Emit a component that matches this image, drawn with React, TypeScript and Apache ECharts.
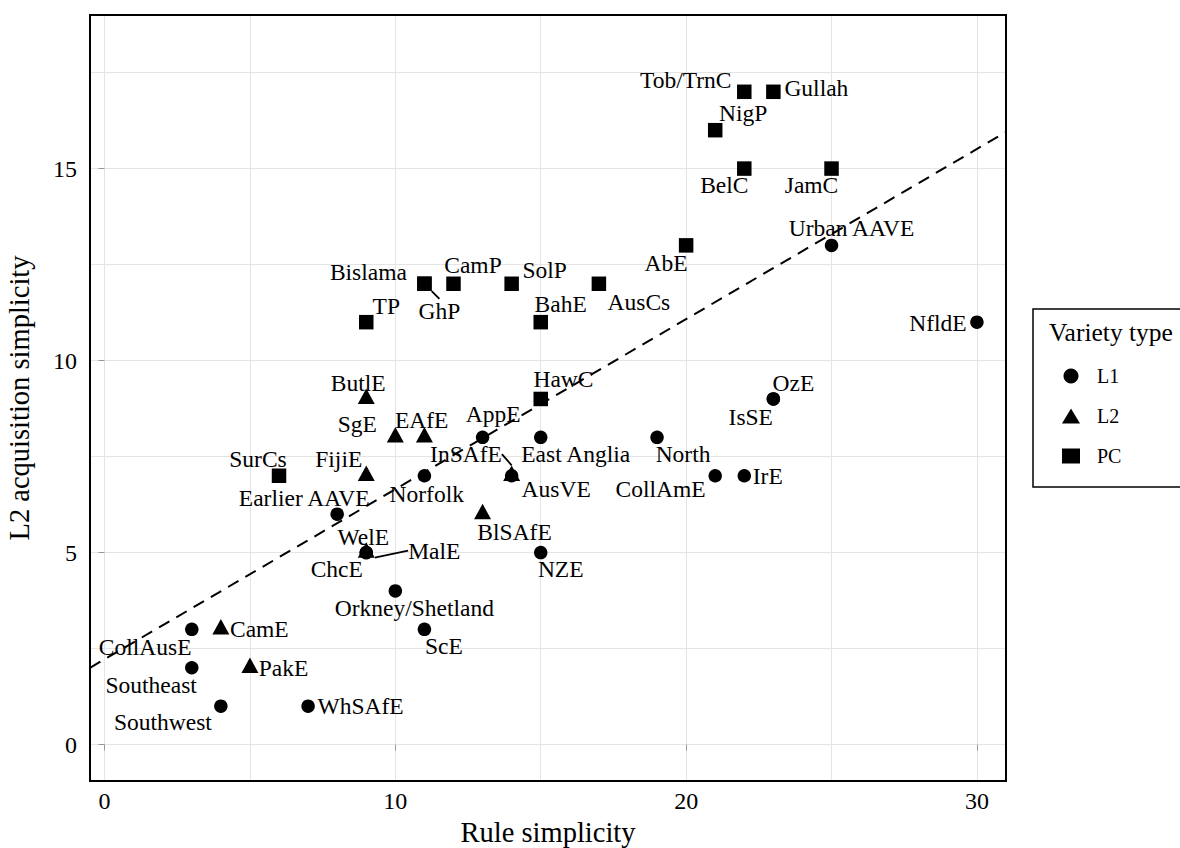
import React, { useEffect, useRef } from 'react';
import * as echarts from 'echarts';

const FONT = "'Liberation Serif', 'Times New Roman', Times, serif";

// ---- data ----
const l1Names = ['Urban AAVE', 'NfldE', 'OzE', 'IsSE', 'AppE', 'East Anglia', 'North', 'CollAmE', 'IrE', 'AusVE', 'Norfolk', 'Earlier AAVE', 'WelE', 'ChcE', 'NZE', 'Orkney/Shetland', 'ScE', 'CollAusE', 'Southeast', 'Southwest', 'WhSAfE'];
const l1X = [25, 30, 23, 23, 13, 15, 19, 21, 22, 14, 11, 8, 9, 9, 15, 10, 11, 3, 3, 4, 7];
const l1Y = [13, 11, 9, 9, 8, 8, 8, 7, 7, 7, 7, 6, 5, 5, 5, 4, 3, 3, 2, 1, 1];

const l2Names = ['ButlE', 'SgE', 'EAfE', 'FijiE', 'InSAfE', 'BlSAfE', 'MalE', 'CamE', 'PakE'];
const l2X = [9, 10, 11, 9, 14, 13, 9, 4, 5];
const l2Y = [9, 8, 8, 7, 7, 6, 5, 3, 2];

const pcNames = ['Tob/TrnC', 'Gullah', 'NigP', 'BelC', 'JamC', 'AbE', 'Bislama', 'GhP', 'CamP', 'SolP', 'AusCs', 'TP', 'BahE', 'HawC', 'SurCs'];
const pcX = [22, 23, 21, 22, 25, 20, 11, 11, 12, 14, 17, 9, 15, 15, 6];
const pcY = [17, 17, 16, 15, 15, 13, 12, 12, 12, 12, 12, 11, 11, 9, 7];

const fitIntercept = 2.22;
const fitSlope = 0.443;

const xTicks = [0, 10, 20, 30];
const yTicks = [0, 5, 10, 15];
const xRange = [-0.5, 31];
const yRange = [-0.95, 19];

const legendTitle = 'Variety type';
const typeNames = ['L1', 'L2', 'PC'];

// ---- label placement (pixel offsets of label centre from point, repel-style) ----
const labelOffsets: Record<string, [number, number]> = {
  'Urban AAVE': [20, -17], 'NfldE': [-39, 0.5], 'OzE': [20, -15.6], 'IsSE': [-22.6, 18],
  'AppE': [10.7, -23], 'East Anglia': [35, 17], 'North': [26, 17], 'CollAmE': [-54.6, 13],
  'IrE': [23.5, 0.6], 'AusVE': [44.5, 13.3], 'Norfolk': [2.3, 18.3], 'Earlier AAVE': [-33, -16.3],
  'WelE': [-3, -16], 'ChcE': [-29.5, 16], 'NZE': [20, 16.7], 'Orkney/Shetland': [19, 17],
  'ScE': [19.5, 17], 'CollAusE': [-46.6, 18], 'Southeast': [-40.6, 17], 'Southwest': [-58, 15.6],
  'WhSAfE': [52.5, 0], 'ButlE': [-8, -16], 'SgE': [-38, -13], 'EAfE': [-2.7, -17],
  'FijiE': [-27.5, -16.7], 'InSAfE': [-45.7, -21.7], 'BlSAfE': [32, 18], 'MalE': [68, -2],
  'CamE': [38.5, 0], 'PakE': [33.5, 0], 'Tob/TrnC': [-58.5, -12], 'Gullah': [43, -4],
  'NigP': [28, -17], 'BelC': [-20, 16.6], 'JamC': [-20, 16.6], 'AbE': [-20, 17.6],
  'Bislama': [-56, -12], 'GhP': [15, 27], 'CamP': [19.5, -18.7], 'SolP': [33, -14],
  'AusCs': [40, 18], 'TP': [20, -16.5], 'BahE': [20, -18], 'HawC': [22.7, -20], 'SurCs': [-21, -16.7],
};
const withSegment = ['GhP', 'InSAfE', 'MalE'];

const TRI_SHIFT = 2.6;

function makeData(names: string[], xs: number[], ys: number[]) {
  return names.map((n, i) => {
    const item: any = { name: n, value: [xs[i], ys[i]] };
    if (withSegment.includes(n)) {
      item.labelLine = { show: true, lineStyle: { color: '#000', width: 1.8, opacity: 1 } };
    }
    return item;
  });
}

function layoutFor(names: string[], extraDy: number) {
  return (p: any) => {
    const o = labelOffsets[names[p.dataIndex]] || [0, 0];
    return { dx: o[0], dy: o[1] + extraDy };
  };
}

const labelStyle = {
  show: true,
  position: 'inside',
  formatter: '{b}',
  color: '#000',
  opacity: 1,
  fontSize: 23.5,
  fontFamily: FONT,
  align: 'center',
  verticalAlign: 'middle',
};

const pointStyle = { color: '#000', opacity: 1 };

export default function App() {
  const ref = useRef<HTMLDivElement>(null);
  useEffect(() => {
    const chart = echarts.init(ref.current!, null, { renderer: 'svg' });
    const axisCommon = {
      type: 'value' as const,
      axisLine: { show: false },
      splitLine: { show: true, lineStyle: { color: '#e4e4e4', width: 1 } },
      minorTick: { show: false, splitNumber: 2 },
      minorSplitLine: { show: true, lineStyle: { color: '#e4e4e4', width: 1 } },
      nameLocation: 'middle' as const,
      nameTextStyle: { fontSize: 28.5, fontFamily: FONT, color: '#000' },
    };
    const option: any = {
      animation: false,
      backgroundColor: '#fff',
      grid: {
        left: 90, top: 15, right: 174, bottom: 67,
        show: true, borderColor: '#000', borderWidth: 2, z: 5,
        outerBoundsMode: 'none', containLabel: false,
      },
      xAxis: {
        ...axisCommon,
        min: xRange[0], max: xRange[1], splitNumber: 3,
        axisTick: { show: true, length: 6, customValues: xTicks, lineStyle: { color: '#999', width: 1 } },
        axisLabel: { customValues: xTicks, margin: 8, fontSize: 24, color: '#000', fontFamily: FONT },
        name: 'Rule simplicity', nameGap: 27,
      },
      yAxis: {
        ...axisCommon,
        min: yRange[0], max: yRange[1], splitNumber: 4,
        axisTick: { show: true, length: 6, customValues: yTicks, lineStyle: { color: '#999', width: 1 } },
        axisLabel: { customValues: yTicks, margin: 13, fontSize: 24, color: '#000', fontFamily: FONT },
        name: 'L2 acquisition simplicity', nameGap: 56,
      },
      legend: {
        data: typeNames,
        orient: 'vertical',
        left: 1057, top: 361,
        itemWidth: 18, itemHeight: 15, itemGap: 20,
        selectedMode: false,
        itemStyle: { opacity: 1, color: '#000' },
        textStyle: { fontSize: 20, fontFamily: FONT, color: '#000', lineHeight: 20, padding: [0, 0, 0, 12] },
      },
      graphic: [
        { type: 'rect', z: 10, shape: { x: 1033, y: 309, width: 200, height: 178 }, style: { fill: 'none', stroke: '#000', lineWidth: 1.5 } },
        { type: 'text', z: 10, x: 1049, y: 332, style: { text: legendTitle, fontSize: 25.5, fontFamily: FONT, fill: '#000', verticalAlign: 'middle', align: 'left' } },
      ],
      series: [
        {
          type: 'line', name: 'fit', silent: true, symbol: 'none', z: 3,
          data: [[xRange[0], fitIntercept + fitSlope * xRange[0]], [xRange[1], fitIntercept + fitSlope * xRange[1]]],
          lineStyle: { color: '#000', width: 2, type: [12, 8] },
        },
        {
          type: 'scatter', name: typeNames[0], symbol: 'circle', symbolSize: 13.5, z: 4,
          itemStyle: pointStyle,
          data: makeData(l1Names, l1X, l1Y),
          label: labelStyle,
          labelLayout: layoutFor(l1Names, 0),
        },
        {
          type: 'scatter', name: typeNames[1], symbol: 'triangle', symbolSize: [17, 15.5], symbolOffset: [0, -TRI_SHIFT], z: 4,
          itemStyle: pointStyle,
          data: makeData(l2Names, l2X, l2Y),
          label: labelStyle,
          labelLayout: layoutFor(l2Names, TRI_SHIFT),
        },
        {
          type: 'scatter', name: typeNames[2], symbol: 'rect', symbolSize: 14.5, z: 4,
          itemStyle: pointStyle,
          data: makeData(pcNames, pcX, pcY),
          label: labelStyle,
          labelLayout: layoutFor(pcNames, 0),
        },
      ],
    };
    chart.setOption(option);
    return () => chart.dispose();
  }, []);
  return <div ref={ref} style={{ position: 'absolute', left: 0, top: 0, width: 1180, height: 848 }} />;
}
